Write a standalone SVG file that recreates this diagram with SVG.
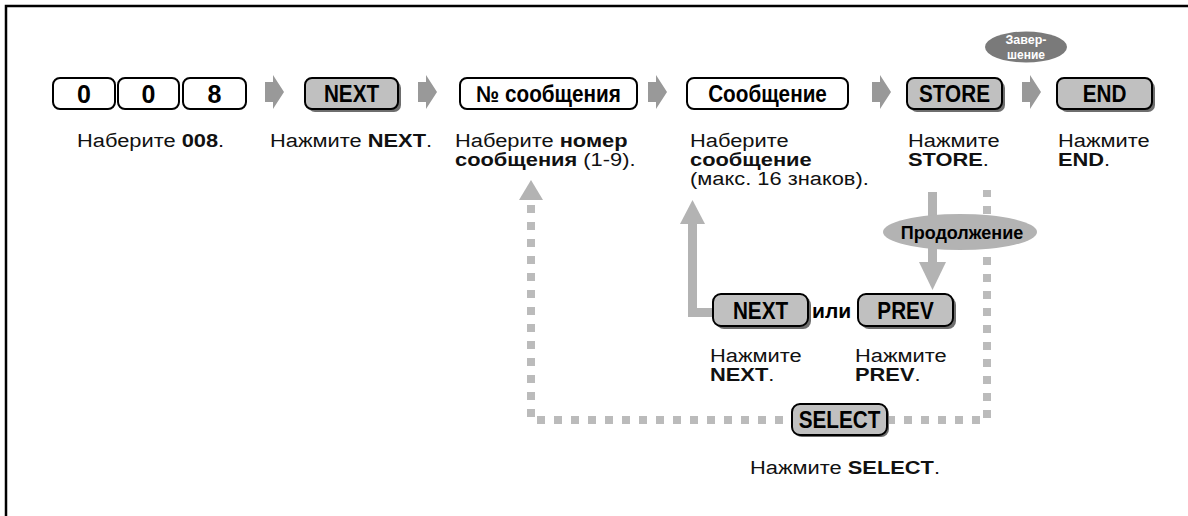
<svg xmlns="http://www.w3.org/2000/svg" width="1188" height="516" viewBox="0 0 1188 516">
<style>
.wb{fill:#fff;stroke:#000;stroke-width:2}
.gb{fill:#c0c0c0;stroke:#000;stroke-width:2}
.sh{fill:#6e6e6e}
.bt{font-family:"Liberation Sans",Arial,sans-serif;font-weight:bold;font-size:23px;fill:#000;text-anchor:middle}
.dg{font-family:"Liberation Sans",Arial,sans-serif;font-weight:bold;font-size:25px;fill:#000;text-anchor:middle}
.lb{font-family:"Liberation Sans",Arial,sans-serif;font-size:19px;fill:#111}
.b{font-weight:bold}
.arr{fill:#999}
.dash{fill:none;stroke:#bbb;stroke-width:8;stroke-dasharray:8 9}
.solid{fill:none;stroke:#b3b3b3;stroke-width:9}
.head{fill:#b3b3b3}
.wt{font-family:"Liberation Sans",Arial,sans-serif;font-weight:bold;fill:#fff;text-anchor:middle}
</style>
<defs>
<path id="rarr" d="M0,-10 H8 V-17 L19,0 L8,17 V10 H0 Z"/>
</defs>
<rect width="1188" height="516" fill="#fff"/>
<path d="M6,516 V6 H1188" fill="none" stroke="#000" stroke-width="2.5"/>

<g id="connectors">
<use href="#rarr" class="arr" x="265" y="92"/>
<use href="#rarr" class="arr" x="418" y="92"/>
<use href="#rarr" class="arr" x="648" y="92"/>
<use href="#rarr" class="arr" x="872" y="92"/>
<use href="#rarr" class="arr" x="1022" y="92"/>
<path class="dash" d="M531,205 V420 H792"/>
<path class="dash" d="M887,420 H987 V190"/>
<polygon class="head" points="531,180 519,200 543,200"/>
<path class="solid" d="M713,312.5 H692.5 V222"/>
<polygon class="head" points="692.5,200 680,224 705,224"/>
<path class="solid" d="M932.5,192 V264"/>
<polygon class="head" points="919,262 946,262 932.5,290"/>
</g>

<g id="key0a"><rect class="wb" x="53" y="78" width="62" height="31" rx="7"/><text class="dg" x="84" y="102.5">0</text></g>
<g id="key0b"><rect class="wb" x="118" y="78" width="61" height="31" rx="7"/><text class="dg" x="148.5" y="102.5">0</text></g>
<g id="key8"><rect class="wb" x="183" y="78" width="63" height="31" rx="7"/><text class="dg" x="214.5" y="102.5">8</text></g>
<g id="lbl008"><text class="lb" transform="translate(77,147) scale(1.15,1)">Наберите <tspan class="b">008</tspan>.</text></g>

<g id="next1"><rect class="sh" x="308" y="81" width="93" height="31" rx="7"/><rect class="gb" x="305" y="78" width="93" height="31" rx="7"/><text class="bt" transform="translate(351.5,102) scale(0.9,1)">NEXT</text></g>
<g id="lblnext1"><text class="lb" transform="translate(270,147) scale(1.15,1)">Нажмите <tspan class="b">NEXT</tspan>.</text></g>

<g id="msgno"><rect class="wb" x="460" y="78" width="177" height="31" rx="7"/><text class="bt" transform="translate(548.5,102) scale(0.9,1)">№ сообщения</text></g>
<g id="lblmsgno"><text class="lb" transform="translate(455,147) scale(1.15,1)">Наберите <tspan class="b">номер</tspan><tspan x="0" y="19"><tspan class="b">сообщения</tspan> (1-9).</tspan></text></g>

<g id="msg"><rect class="wb" x="687" y="78" width="161" height="31" rx="7"/><text class="bt" transform="translate(767.5,102) scale(0.9,1)">Сообщение</text></g>
<g id="lblmsg"><text class="lb" transform="translate(690,147) scale(1.15,1)">Наберите<tspan x="0" y="19" class="b">сообщение</tspan><tspan x="0" y="38">(макс. 16 знаков).</tspan></text></g>

<g id="store"><rect class="sh" x="910" y="81" width="95" height="31" rx="7"/><rect class="gb" x="907" y="78" width="95" height="31" rx="7"/><text class="bt" transform="translate(954.5,102) scale(0.9,1)">STORE</text></g>
<g id="lblstore"><text class="lb" transform="translate(908,147) scale(1.15,1)">Нажмите<tspan x="0" y="19"><tspan class="b">STORE</tspan>.</tspan></text></g>

<g id="finish"><ellipse cx="1026" cy="47" rx="41" ry="15.5" fill="#7a7a7a"/><text class="wt" x="1026" y="43.5" font-size="12.5">Завер-</text><text class="wt" x="1026" y="58.5" font-size="12">шение</text></g>

<g id="end"><rect class="sh" x="1060" y="81" width="95" height="31" rx="7"/><rect class="gb" x="1057" y="78" width="95" height="31" rx="7"/><text class="bt" transform="translate(1104.5,102) scale(0.9,1)">END</text></g>
<g id="lblend"><text class="lb" transform="translate(1058,147) scale(1.15,1)">Нажмите<tspan x="0" y="19"><tspan class="b">END</tspan>.</tspan></text></g>

<g id="continue"><ellipse cx="960" cy="232" rx="77" ry="18" fill="#b3b3b3"/><text x="962" y="239" font-family="Liberation Sans,Arial,sans-serif" font-weight="bold" font-size="18" fill="#000" text-anchor="middle">Продолжение</text></g>

<g id="next2"><rect class="sh" x="716" y="297" width="95" height="32" rx="8"/><rect class="gb" x="713" y="294" width="95" height="32" rx="8"/><text class="bt" transform="translate(760.5,319) scale(0.9,1)">NEXT</text></g>
<g id="ili"><text x="812" y="318" font-family="Liberation Sans,Arial,sans-serif" font-weight="bold" font-size="21" fill="#000">или</text></g>
<g id="prev"><rect class="sh" x="861" y="297" width="95" height="32" rx="8"/><rect class="gb" x="858" y="294" width="95" height="32" rx="8"/><text class="bt" transform="translate(905.5,319) scale(0.9,1)">PREV</text></g>
<g id="lblnext2"><text class="lb" transform="translate(710,362) scale(1.15,1)">Нажмите<tspan x="0" y="19"><tspan class="b">NEXT</tspan>.</tspan></text></g>
<g id="lblprev"><text class="lb" transform="translate(855,362) scale(1.15,1)">Нажмите<tspan x="0" y="19"><tspan class="b">PREV</tspan>.</tspan></text></g>

<g id="select"><rect class="sh" x="794" y="406" width="95" height="31" rx="8"/><rect class="gb" x="792" y="404" width="95" height="31" rx="8"/><text class="bt" transform="translate(839.5,428) scale(0.9,1)">SELECT</text></g>
<g id="lblselect"><text class="lb" transform="translate(750,474) scale(1.15,1)">Нажмите <tspan class="b">SELECT</tspan>.</text></g>
</svg>
